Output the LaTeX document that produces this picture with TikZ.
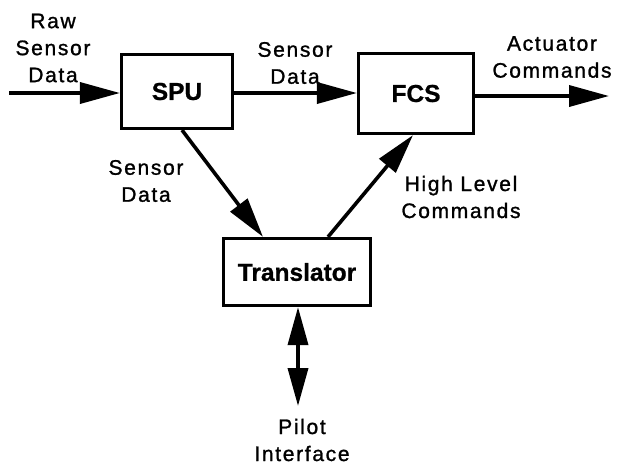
\documentclass[tikz,border=0pt]{standalone}
\usepackage{fontspec}
\setmainfont{Liberation Sans}[LetterSpace=8,FakeBold=1.2,BoldFeatures={LetterSpace=0,FakeBold=0.8}]
\usetikzlibrary{arrows.meta,calc}
\begin{document}
\begin{tikzpicture}[x=1pt,y=-1pt,
  block/.style={draw,line width=3.2pt,minimum width=#1,inner sep=0pt,
    font=\fontsize{24.5}{28}\selectfont\bfseries},
  lbl/.style={align=center,inner sep=0pt,font=\fontsize{21}{27}\selectfont},
  arr/.style={line width=3.6pt,-{Triangle[length=40pt,width=21pt]}},
  dbl/.style={line width=3.6pt,{Triangle[length=38pt,width=20pt]}-{Triangle[length=38pt,width=20pt]}}]
\useasboundingbox (0,0) rectangle (617,464);

% processing blocks
\node[block=111pt,minimum height=74pt] (spu) at (177,91.5) {SPU};
\node[block=115pt,minimum height=80pt] (fcs) at (416,93.5) {FCS};
\node[block=147pt,minimum height=67pt] (tr) at (297,272) {Translator};

% free ends
\coordinate (in) at (9,93);
\coordinate (out) at (609,96);
\coordinate (pilot) at (298,406);

% connectors
\draw[arr] (in) -- (in -| spu.west);
\draw[arr] (spu.east |- 0,93) -- (fcs.west |- 0,93);
\draw[arr] (fcs.east |- out) -- (out);
\draw[arr] ([xshift=5pt]spu.south) -- ([xshift=-34pt]tr.north);
\draw[arr] ([xshift=31pt]tr.north) -- ([xshift=-3pt]fcs.south);
\draw[dbl] (tr.south -| pilot) -- (pilot);

% labels
\node[lbl] (lraw) at (53,48) {Raw\\Sensor\\Data};
\node[lbl] (lsd1) at (295,63) {Sensor\\Data};
\node[lbl] (lact) at (552,57) {Actuator\\Commands};
\node[lbl] (lsd2) at (146,181) {Sensor\\Data};
\node[lbl] (lhlc) at (461,197) {High Level\\Commands};
\node[lbl] (lpil) at (302,440) {Pilot\\Interface};
\end{tikzpicture}
\end{document}
